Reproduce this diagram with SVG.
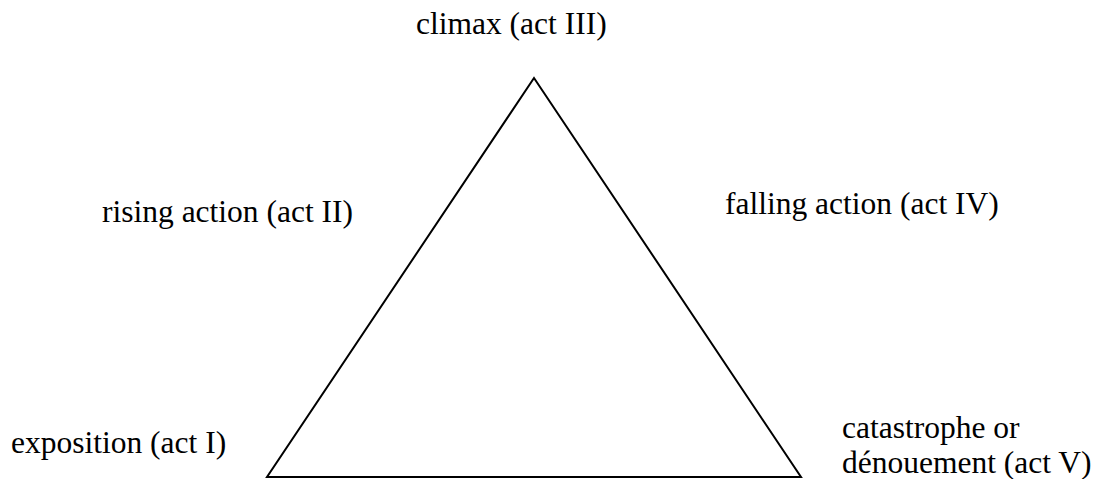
<svg xmlns="http://www.w3.org/2000/svg" width="1093" height="479" viewBox="0 0 1093 479">
<style>
text { font-family: "Liberation Serif", "Times New Roman", serif; font-size: 31.5px; fill: #000; }
.edge { fill: none; stroke: #000; stroke-width: 2; stroke-linejoin: miter; }
</style>
<rect width="1093" height="479" fill="#fff"/>
<g id="connectors">
<polygon class="edge" points="534,78 801,477 267,477"/>
</g>
<g id="climax"><text x="416" y="34">climax (act III)</text></g>
<g id="rising"><text x="102" y="222">rising action (act II)</text></g>
<g id="falling"><text x="725" y="214">falling action (act IV)</text></g>
<g id="exposition"><text x="11" y="453">exposition (act I)</text></g>
<g id="catastrophe"><text x="842" y="438">catastrophe or</text><text x="842" y="473">dénouement (act V)</text></g>
</svg>
